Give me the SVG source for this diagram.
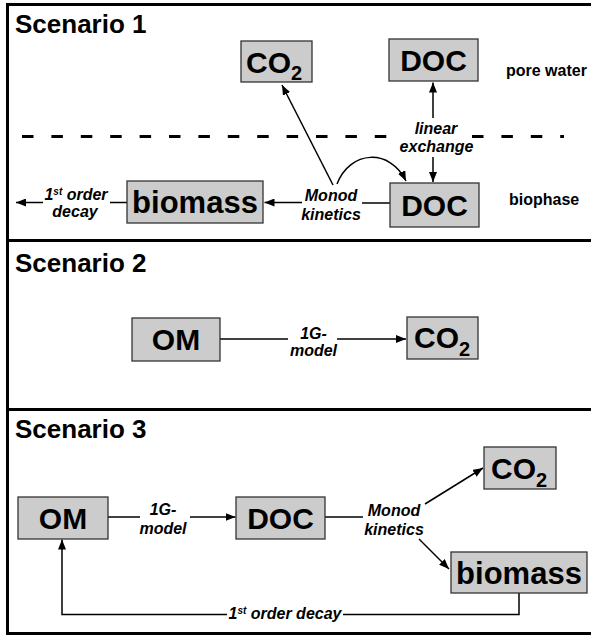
<svg xmlns="http://www.w3.org/2000/svg" width="591" height="639" viewBox="0 0 591 639">
<style>
.frame{stroke:#000;stroke-width:3;fill:none}
.box{fill:#cccccc;stroke:#333;stroke-width:1.3}
.nt{font-family:"Liberation Sans",Arial,sans-serif;font-weight:bold;font-size:30px;fill:#000;text-anchor:middle}
.st{text-anchor:start}
.sub{font-size:20px}
.title{font-family:"Liberation Sans",Arial,sans-serif;font-weight:bold;font-size:26px;fill:#000}
.el{font-family:"Liberation Sans",Arial,sans-serif;font-weight:bold;font-style:italic;font-size:16px;fill:#000;text-anchor:middle}
.side{font-family:"Liberation Sans",Arial,sans-serif;font-weight:bold;font-size:16px;fill:#000}
.c{stroke:#000;stroke-width:1.5;fill:none}
.arr{marker-end:url(#ah)}
</style>
<defs>
<marker id="ah" markerUnits="userSpaceOnUse" markerWidth="10" markerHeight="8" refX="10" refY="4" orient="auto">
<path d="M0,0 L10,4 L0,8 z" fill="#000"/>
</marker>
</defs>
<rect width="591" height="639" fill="#fff"/>
<g id="frame">
<path class="frame" d="M591,4.5 H7.5 V633.5 H591"/>
<line class="frame" x1="7" y1="240.5" x2="591" y2="240.5"/>
<line class="frame" x1="7" y1="409.5" x2="591" y2="409.5"/>
<line x1="22" y1="136.5" x2="396" y2="136.5" stroke="#000" stroke-width="3" stroke-dasharray="11.5 17.9"/>
<line x1="472" y1="136.5" x2="564" y2="136.5" stroke="#000" stroke-width="3" stroke-dasharray="11.5 17.9"/>
<text class="title" x="15" y="33">Scenario 1</text>
<text class="title" x="15" y="272">Scenario 2</text>
<text class="title" x="15" y="438">Scenario 3</text>
<text class="side" x="506" y="76">pore water</text>
<text class="side" x="509" y="205">biophase</text>
</g>
<g id="connectors">
<path class="c arr" d="M433,118 V82.5"/>
<path class="c arr" d="M433,157 V182"/>
<path class="c arr" d="M333,185 L282,85"/>
<path class="c arr" d="M337,184 C350,150 390,148 406,181"/>
<path class="c" d="M390,203 H362"/>
<path class="c arr" d="M302,202.5 H264.5"/>
<path class="c" d="M127,202.5 H110"/>
<path class="c arr" d="M43,202.5 H16"/>
<text class="el" x="436" y="134">linear</text>
<text class="el" x="436.5" y="152">exchange</text>
<text class="el" x="331" y="201">Monod</text>
<text class="el" x="331" y="220">kinetics</text>
<text class="el" x="76" y="200">1<tspan font-size="10" dy="-5">st</tspan><tspan dy="5"> order</tspan></text>
<text class="el" x="75" y="217">decay</text>
<path class="c" d="M220,339 H288"/>
<path class="c arr" d="M337,339 H406"/>
<text class="el" x="313.5" y="339">1G-</text>
<text class="el" x="313.5" y="356">model</text>
<path class="c" d="M108,517 H140"/>
<path class="c arr" d="M190,517 H235.5"/>
<text class="el" x="163" y="515">1G-</text>
<text class="el" x="163" y="534">model</text>
<path class="c" d="M325,517 H363"/>
<path class="c arr" d="M425,504 L483,468"/>
<path class="c arr" d="M419,539 L449,569"/>
<text class="el" x="394" y="516">Monod</text>
<text class="el" x="394" y="535">kinetics</text>
<path class="c arr" d="M227,614.5 H62 V539.5"/>
<path class="c" d="M343,614.5 H519 V593"/>
<text class="el" x="285" y="619">1<tspan font-size="10" dy="-5">st</tspan><tspan dy="5"> order decay</tspan></text>
</g>
<g id="co2_top"><rect class="box" x="241" y="41" width="71" height="41"/><text class="nt st" x="246" y="73">CO<tspan class="sub" dy="7">2</tspan></text></g>
<g id="doc_pore"><rect class="box" x="389" y="39" width="89" height="42"/><text class="nt" x="433.5" y="71">DOC</text></g>
<g id="doc_bio"><rect class="box" x="390" y="183" width="89" height="44"/><text class="nt" x="434.5" y="216">DOC</text></g>
<g id="biomass1"><rect class="box" x="127" y="181" width="136" height="42"/><text class="nt" x="195" y="213" style="font-size:31px">biomass</text></g>
<g id="om2"><rect class="box" x="132" y="318" width="88" height="43"/><text class="nt" x="176" y="350">OM</text></g>
<g id="co2_2"><rect class="box" x="407" y="317" width="71" height="42"/><text class="nt st" x="414" y="348">CO<tspan class="sub" dy="8">2</tspan></text></g>
<g id="om3"><rect class="box" x="18" y="497" width="90" height="42"/><text class="nt" x="63" y="529">OM</text></g>
<g id="doc3"><rect class="box" x="236" y="497" width="89" height="42"/><text class="nt" x="280.5" y="529">DOC</text></g>
<g id="co2_3"><rect class="box" x="484" y="447" width="72" height="42"/><text class="nt st" x="491" y="479">CO<tspan class="sub" dy="8">2</tspan></text></g>
<g id="biomass3"><rect class="box" x="451" y="552" width="136" height="41"/><text class="nt" x="519" y="584" style="font-size:31px">biomass</text></g>
</svg>
